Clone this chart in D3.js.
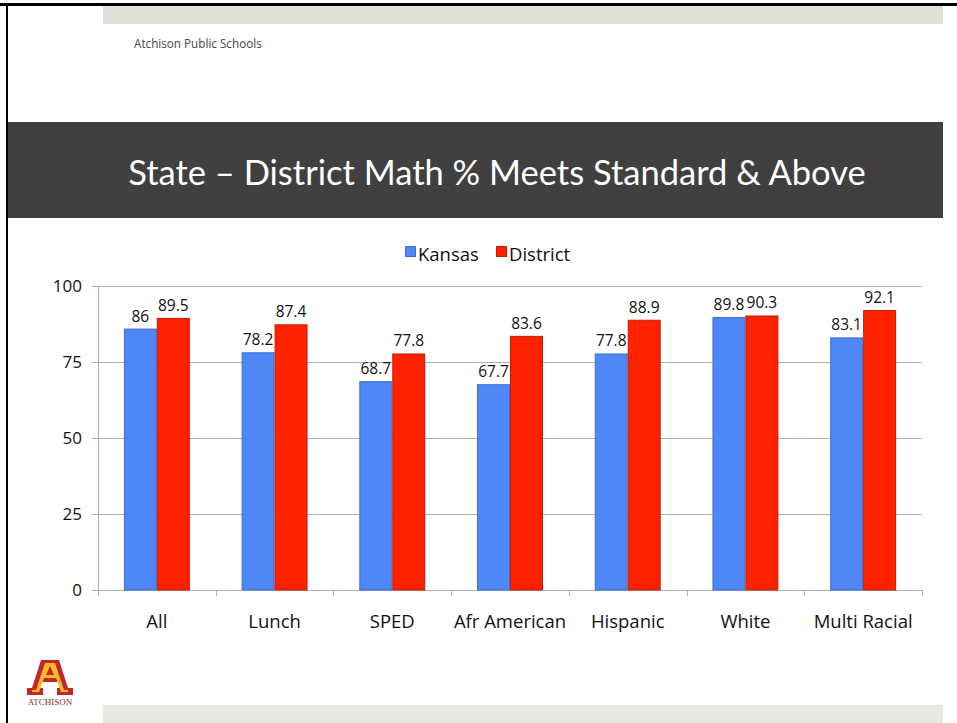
<!DOCTYPE html>
<html>
<head>
<meta charset="utf-8">
<script src="https://cdnjs.cloudflare.com/ajax/libs/d3/7.8.5/d3.min.js"></script>
<style>
  body { margin: 0; background: #fff; }
  svg { display: block; }
</style>
</head>
<body>
<svg id="slide" width="957" height="723"></svg>
<script>
'use strict';

var categories = ['All', 'Lunch', 'SPED', 'Afr American', 'Hispanic', 'White', 'Multi Racial'];
var seriesNames = ['Kansas', 'District'];
var kansas = [86, 78.2, 68.7, 67.7, 77.8, 89.8, 83.1];
var district = [89.5, 87.4, 77.8, 83.6, 88.9, 90.3, 92.1];
var yTicks = [0, 25, 50, 75, 100];

var colors = { Kansas: '#4e87f8', District: '#ff2200' };
var strokes = { Kansas: '#3f6fd0', District: '#c81a00' };
var font = '"Open Sans", "Noto Sans", sans-serif';

var svg = d3.select('#slide');

// slide frame
svg.append('rect').attr('x', 0).attr('y', 0).attr('width', 957).attr('height', 723).attr('fill', '#fff');
svg.append('rect').attr('x', 103).attr('y', 6).attr('width', 840).attr('height', 18).attr('fill', '#dfe0d8');
svg.append('rect').attr('x', 103).attr('y', 705).attr('width', 840).attr('height', 18).attr('fill', '#e8e8e2');
svg.append('rect').attr('x', 0).attr('y', 3).attr('width', 957).attr('height', 3).attr('fill', '#000');
svg.append('rect').attr('x', 6).attr('y', 3).attr('width', 2).attr('height', 720).attr('fill', '#000');

svg.append('text').attr('x', 134).attr('y', 48)
  .attr('font-family', font).attr('font-size', 11.7).attr('fill', '#444')
  .text('Atchison Public Schools');

// title band
svg.append('rect').attr('x', 8).attr('y', 122).attr('width', 935).attr('height', 96).attr('fill', '#404040');
svg.append('text').attr('x', 497).attr('y', 185).attr('text-anchor', 'middle')
  .attr('font-family', '"Lato", "Open Sans", sans-serif').attr('font-size', 34.5).attr('fill', '#fff')
  .text('State \u2013 District Math % Meets Standard & Above');

// chart
var margin = { left: 98, right: 922, top: 286, bottom: 590 };
var x0 = d3.scaleBand().domain(categories).range([margin.left, margin.right]).paddingInner(0.44).paddingOuter(0.22);
var x1 = d3.scaleBand().domain(seriesNames).range([0, x0.bandwidth()]);
var y = d3.scaleLinear().domain([0, 100]).range([margin.bottom, margin.top]);

var g = svg.append('g');

// gridlines
g.selectAll('line.grid').data(yTicks).enter().append('line')
  .attr('x1', margin.left - 6).attr('x2', margin.right)
  .attr('y1', function(d) { return y(d) + 0.5; }).attr('y2', function(d) { return y(d) + 0.5; })
  .attr('stroke', '#b0b0b0').attr('stroke-width', 1);

g.append('line').attr('x1', margin.left + 0.5).attr('x2', margin.left + 0.5)
  .attr('y1', margin.top).attr('y2', margin.bottom + 6)
  .attr('stroke', '#b0b0b0');

// category boundary ticks
var boundaries = d3.range(categories.length + 1).map(function(i) { return margin.left + i * (margin.right - margin.left) / categories.length; });
g.selectAll('line.ctick').data(boundaries).enter().append('line')
  .attr('x1', function(d) { return Math.round(d) + 0.5; }).attr('x2', function(d) { return Math.round(d) + 0.5; })
  .attr('y1', margin.bottom).attr('y2', margin.bottom + 6)
  .attr('stroke', '#b0b0b0');

g.selectAll('text.ytick').data(yTicks).enter().append('text')
  .attr('x', 82).attr('y', function(d) { return y(d) + 6; })
  .attr('text-anchor', 'end').attr('font-family', font).attr('font-size', 17).attr('fill', '#111')
  .text(function(d) { return d; });

g.selectAll('text.cat').data(categories).enter().append('text')
  .attr('x', function(d) { return x0(d) + x0.bandwidth() / 2; })
  .attr('y', 628).attr('text-anchor', 'middle')
  .attr('font-family', font).attr('font-size', 18.5).attr('fill', '#111')
  .text(function(d) { return d; });

var rows = categories.map(function(c, i) {
  return { cat: c, values: [{ s: 'Kansas', v: kansas[i] }, { s: 'District', v: district[i] }] };
});

var groups = g.selectAll('g.grp').data(rows).enter().append('g')
  .attr('transform', function(d) { return 'translate(' + x0(d.cat) + ',0)'; });

groups.selectAll('rect').data(function(d) { return d.values; }).enter().append('rect')
  .attr('x', function(d) { return x1(d.s) + 0.5; })
  .attr('y', function(d) { return y(d.v) + 0.5; })
  .attr('width', x1.bandwidth() - 1)
  .attr('height', function(d) { return y(0) - y(d.v) - 0.5; })
  .attr('fill', function(d) { return colors[d.s]; })
  .attr('stroke', function(d) { return strokes[d.s]; }).attr('stroke-width', 1);

groups.selectAll('text').data(function(d) { return d.values; }).enter().append('text')
  .attr('x', function(d) { return x1(d.s) + x1.bandwidth() / 2; })
  .attr('y', function(d) { return y(d.v) - 7; })
  .attr('text-anchor', 'middle').attr('font-family', font).attr('font-size', 15.5).attr('fill', '#111')
  .text(function(d) { return d.v; });

// legend
var legend = svg.append('g').attr('transform', 'translate(405,246)');
var legendX = { Kansas: 0, District: 91 };
seriesNames.forEach(function(s) {
  legend.append('rect').attr('x', legendX[s] + 0.5).attr('y', 0.5).attr('width', 10).attr('height', 10)
    .attr('fill', colors[s]).attr('stroke', strokes[s]);
  legend.append('text').attr('x', legendX[s] + 13).attr('y', 15)
    .attr('font-family', font).attr('font-size', 18.5).attr('fill', '#111').text(s);
});

// logo
var logo = svg.append('g').attr('transform', 'translate(27,660)');
logo.append('path')
  .attr('d', 'M14 0 L32 0 L41 28 L46 28 L46 35 L30 35 L30 28 L33 28 L31 22 L15 22 L13 28 L16 28 L16 35 L0 35 L0 28 L5 28 Z')
  .attr('fill', '#c0282d');
logo.append('path')
  .attr('d', 'M18 3 L28 3 L37 30 L41 30 L41 32 L34 32 L29 18 L17 18 L12 32 L5 32 L5 30 L9 30 Z M19 15 L27 15 L23 6 Z')
  .attr('fill', '#f2b92b').attr('fill-rule', 'evenodd');
logo.append('text').attr('x', 23).attr('y', 45).attr('text-anchor', 'middle')
  .attr('font-family', '"Liberation Serif", serif').attr('font-size', 9).attr('fill', '#8b2a2a')
  .text('ATCHISON');
</script>
</body>
</html>
